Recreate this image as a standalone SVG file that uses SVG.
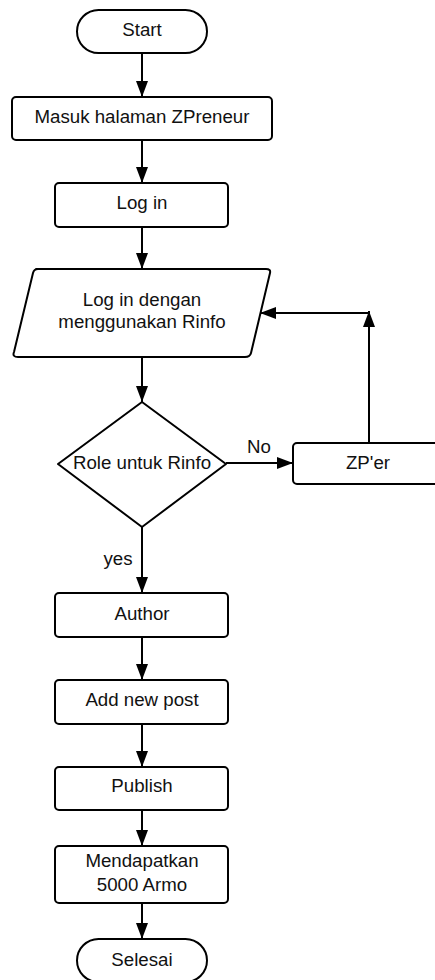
<svg xmlns="http://www.w3.org/2000/svg" width="435" height="980" viewBox="0 0 435 980">
<style>
.s{fill:#fff;stroke:#000;stroke-width:2;stroke-linejoin:round}
.c{fill:none;stroke:#000;stroke-width:2}
text{font-family:"Liberation Sans",Arial,sans-serif;font-size:18.7px;fill:#111;text-anchor:middle}
</style>
<defs>
<marker id="ah" viewBox="0 0 16 12" refX="16" refY="6" markerWidth="16" markerHeight="12" markerUnits="userSpaceOnUse" orient="auto">
<path d="M0,0 L16,6 L0,12 Z" fill="#000"/>
</marker>
</defs>
<rect width="435" height="980" fill="#fff"/>
<g id="connectors">
<line class="c" x1="142" y1="53" x2="142" y2="97" marker-end="url(#ah)"/>
<line class="c" x1="142" y1="140" x2="142" y2="183" marker-end="url(#ah)"/>
<line class="c" x1="142" y1="227" x2="142" y2="269" marker-end="url(#ah)"/>
<line class="c" x1="142" y1="357" x2="142" y2="402" marker-end="url(#ah)"/>
<line class="c" x1="226" y1="463" x2="293" y2="463" marker-end="url(#ah)"/>
<line class="c" x1="369" y1="443" x2="369" y2="311" marker-end="url(#ah)"/>
<line class="c" x1="369" y1="313" x2="260" y2="313" marker-end="url(#ah)"/>
<line class="c" x1="142" y1="527" x2="142" y2="593" marker-end="url(#ah)"/>
<line class="c" x1="142" y1="637" x2="142" y2="680" marker-end="url(#ah)"/>
<line class="c" x1="142" y1="724" x2="142" y2="767" marker-end="url(#ah)"/>
<line class="c" x1="142" y1="810" x2="142" y2="846" marker-end="url(#ah)"/>
<line class="c" x1="142" y1="903" x2="142" y2="939" marker-end="url(#ah)"/>
<text x="259" y="453">No</text>
<text x="118" y="565">yes</text>
</g>
<g id="start">
<rect class="s" x="77" y="10" width="130" height="43" rx="21.5"/>
<text x="142" y="36">Start</text>
</g>
<g id="masuk">
<rect class="s" x="12" y="97" width="260" height="43" rx="4"/>
<text x="142" y="123">Masuk halaman ZPreneur</text>
</g>
<g id="login">
<rect class="s" x="55" y="183" width="173" height="44" rx="4"/>
<text x="142" y="209">Log in</text>
</g>
<g id="rinfo">
<path class="s" d="M36,269 L266,269 Q271,269 270,273 L251,353 Q250,357 245,357 L18,357 Q12,357 14,352 L33,273 Q34,269 38,269 Z"/>
<text x="142" y="306">Log in dengan</text>
<text x="142" y="328">menggunakan Rinfo</text>
</g>
<g id="role">
<path class="s" d="M142,402 L226,464 L142,527 L58,464 Z"/>
<text x="142" y="469">Role untuk Rinfo</text>
</g>
<g id="zper">
<rect class="s" x="293" y="443" width="146" height="41" rx="4"/>
<text x="368" y="469">ZP'er</text>
</g>
<g id="author">
<rect class="s" x="55" y="593" width="173" height="44" rx="4"/>
<text x="142" y="620">Author</text>
</g>
<g id="addpost">
<rect class="s" x="55" y="680" width="173" height="44" rx="4"/>
<text x="142" y="706">Add new post</text>
</g>
<g id="publish">
<rect class="s" x="55" y="767" width="173" height="43" rx="4"/>
<text x="142" y="792">Publish</text>
</g>
<g id="armo">
<rect class="s" x="55" y="846" width="173" height="57" rx="4"/>
<text x="142" y="867">Mendapatkan</text>
<text x="142" y="891">5000 Armo</text>
</g>
<g id="selesai">
<rect class="s" x="77" y="939" width="130" height="43" rx="21.5"/>
<text x="142" y="966">Selesai</text>
</g>
</svg>
